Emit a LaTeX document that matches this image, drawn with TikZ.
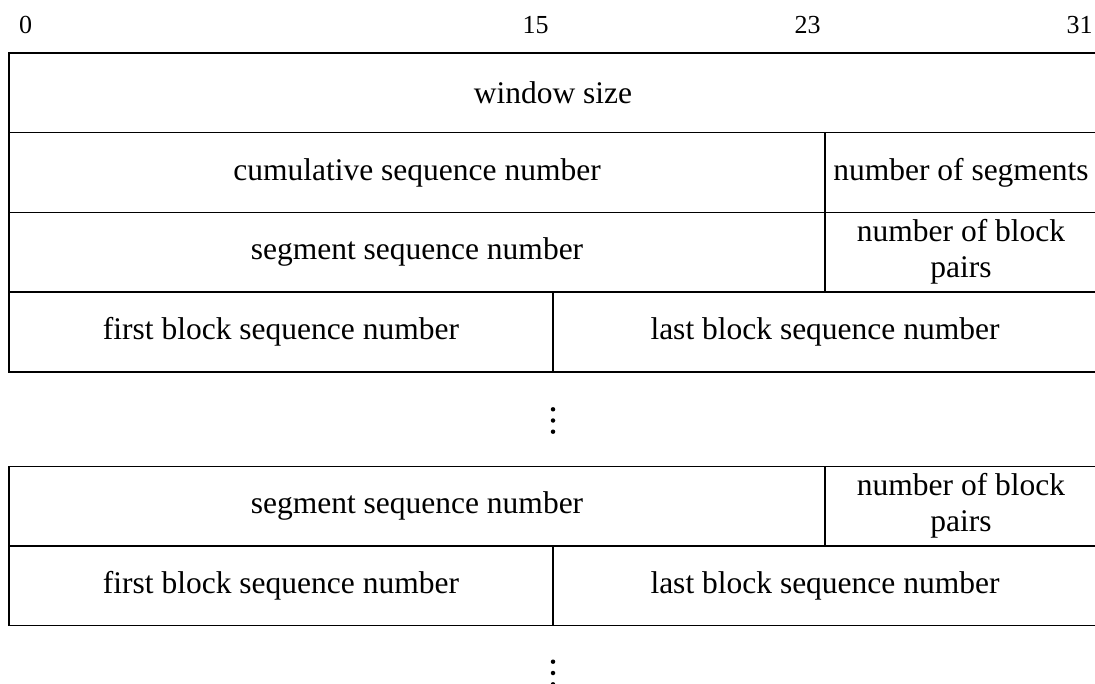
\documentclass[tikz,border=0pt]{standalone}
\usepackage{fontspec}
\setmainfont{Liberation Serif}
\begin{document}
\begin{tikzpicture}[x=1pt,y=-1pt,
  cell/.style={draw, line width=1.5pt, inner sep=0pt, outer sep=0pt,
    minimum height=79.7pt, anchor=north west, align=center,
    font=\fontsize{31.5}{36}\selectfont},
  bitlabel/.style={anchor=base, inner sep=0pt, font=\fontsize{26}{30}\selectfont},
  vdot/.style={circle, fill, inner sep=0pt, minimum size=4.5pt}]
\useasboundingbox (0,0) rectangle (1095,684);

% bit positions above the header (one bit = 34pt)
\node[bitlabel] (b0)  at (25.6,34)  {0};
\node[bitlabel] (b15) at (535.6,34) {15};
\node[bitlabel] (b23) at (807.6,34) {23};
\node[bitlabel] (b31) at (1079.6,34) {31};

% fixed header
\node[cell, minimum width=1088pt] (win) at (9,53) {window size};
\node[cell, minimum width=816pt] (cum) at (9,132.7) {cumulative sequence number};
\node[cell, minimum width=272pt] (nseg) at (825,132.7) {number of segments};

% first segment entry
\node[cell, minimum width=816pt] (seg1) at (9,212.4) {segment sequence number};
\node[cell, minimum width=272pt] (nbp1) at (825,212.4) {number of block\\pairs};
\node[cell, minimum width=544pt] (first1) at (9,292.1) {first block sequence number};
\node[cell, minimum width=544pt] (last1) at (553,292.1) {last block sequence number};

% more block pairs
\node[vdot] (d1a) at (553,409.3) {};
\node[vdot] (d1b) at (553,420.5) {};
\node[vdot] (d1c) at (553,431.7) {};

% last segment entry
\node[cell, minimum width=816pt] (seg2) at (9,466.3) {segment sequence number};
\node[cell, minimum width=272pt] (nbp2) at (825,466.3) {number of block\\pairs};
\node[cell, minimum width=544pt] (first2) at (9,546) {first block sequence number};
\node[cell, minimum width=544pt] (last2) at (553,546) {last block sequence number};

% more segments
\node[vdot] (d2a) at (553,661.7) {};
\node[vdot] (d2b) at (553,673) {};
\node[vdot] (d2c) at (553,684.3) {};
\end{tikzpicture}
\end{document}
